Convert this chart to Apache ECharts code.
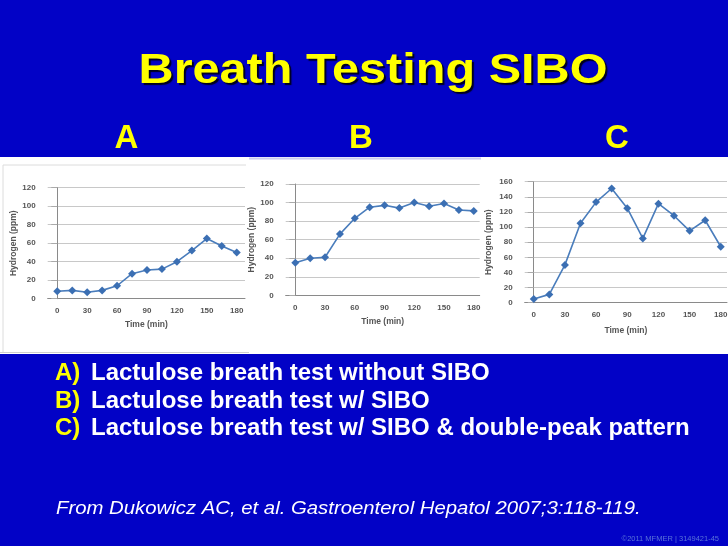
<!DOCTYPE html>
<html>
<head>
<meta charset="utf-8">
<script src="https://cdn.jsdelivr.net/npm/echarts@6/dist/echarts.min.js"></script>
<style>
html,body{margin:0;padding:0;background:#0202c6;}
#chart{width:728px;height:546px;}
</style>
</head>
<body>
<div id="chart"></div>
<script>
// ---- data ----
const times = [0, 15, 30, 45, 60, 75, 90, 105, 120, 135, 150, 165, 180];
const xTickLabels = [0, 30, 60, 90, 120, 150, 180];
const hydrogenA = [8, 9, 7, 9, 14, 27, 31, 32, 40, 52, 65, 57, 50];
const hydrogenB = [35, 40, 41, 66, 83, 95, 97, 94, 100, 96, 99, 92, 91];
const hydrogenC = [5, 11, 50, 105, 133, 151, 125, 85, 131, 115, 95, 109, 74];
const yMaxA = 120, yMaxB = 120, yMaxC = 160;
const panelLetters = ['A', 'B', 'C'];
const titleText = 'Breath Testing SIBO';
const listLetters = ['A)', 'B)', 'C)'];
const listTexts = [
  'Lactulose breath test without SIBO',
  'Lactulose breath test w/ SIBO',
  'Lactulose breath test w/ SIBO & double-peak pattern'
];
const citation = 'From Dukowicz AC, et al. Gastroenterol Hepatol 2007;3:118-119.';
const copyright = '\u00A92011 MFMER | 3149421-45';

// ---- layout ----
const FAM = 'Liberation Sans';
const grids = [
  {left: 47.7, top: 187.7, width: 197.3, height: 111, xmin: -9.6, xmax: 188.3, ymax: yMaxA, yGap: 29, xGap: 21},
  {left: 285.7, top: 184, width: 194, height: 111.3, xmin: -9.7, xmax: 186, ymax: yMaxB, yGap: 29, xGap: 22},
  {left: 524.7, top: 181.7, width: 202.3, height: 121, xmin: -8.7, xmax: 186, ymax: yMaxC, yGap: 32, xGap: 23}
];
const seriesData = [hydrogenA, hydrogenB, hydrogenC];

const axisTextColor = '#555';
const lineColor = '#4a7dbc';

function txt(x, y, text, opts) {
  return Object.assign({type: 'text', x: x, y: y, style: Object.assign({
    text: text, fontFamily: FAM, textAlign: 'left', textVerticalAlign: 'middle'
  }, opts.style)}, opts.el || {});
}

const option = {
  backgroundColor: '#0202c6',
  animation: false,
  textStyle: {fontFamily: FAM},
  grid: grids.map(g => ({left: g.left, top: g.top, width: g.width, height: g.height, containLabel: false, outerBoundsMode: 'none'})),
  xAxis: grids.map((g, i) => ({
    type: 'value', gridIndex: i, min: g.xmin, max: g.xmax,
    axisLine: {show: true, lineStyle: {color: '#8a8a8a', width: 1}},
    axisTick: {show: false},
    splitLine: {show: false},
    axisLabel: {customValues: xTickLabels, color: axisTextColor, fontSize: 8, fontWeight: 'bold', fontFamily: FAM, margin: 8},
    name: 'Time (min)', nameLocation: 'middle', nameGap: g.xGap,
    nameTextStyle: {color: axisTextColor, fontSize: 8.5, fontWeight: 'bold', fontFamily: FAM}
  })),
  yAxis: grids.map((g, i) => ({
    type: 'value', gridIndex: i, min: 0, max: g.ymax, interval: 20,
    axisLine: {show: true, lineStyle: {color: '#8a8a8a', width: 1}},
    axisTick: {show: true, length: 6, lineStyle: {color: '#aaa'}},
    splitLine: {show: true, lineStyle: {color: '#c8c8c8', width: 1}},
    axisLabel: {color: axisTextColor, fontSize: 8, fontWeight: 'bold', fontFamily: FAM, margin: 12},
    name: 'Hydrogen (ppm)', nameLocation: 'middle', nameGap: g.yGap, nameRotate: 90,
    nameTextStyle: {color: axisTextColor, fontSize: 8.5, fontWeight: 'bold', fontFamily: FAM}
  })),
  series: seriesData.map((arr, i) => ({
    type: 'line', xAxisIndex: i, yAxisIndex: i,
    data: times.map((t, k) => [t, arr[k]]),
    symbol: 'diamond', symbolSize: 8,
    lineStyle: {color: lineColor, width: 1.6},
    itemStyle: {color: '#3b6fb3'},
    z: 5
  })),
  graphic: [
    {type: 'rect', z: -10, shape: {x: 0, y: 157, width: 728, height: 197}, style: {fill: '#ffffff'}},
    {type: 'polyline', z: -9, shape: {points: [[3, 352], [3, 165], [246, 165]]}, style: {stroke: '#dcdcdc', lineWidth: 1, fill: null}},
    {type: 'line', z: -9, shape: {x1: 0, y1: 352.5, x2: 249, y2: 352.5}, style: {stroke: '#cfcfcf', lineWidth: 1}},
    {type: 'line', z: -9, shape: {x1: 249, y1: 158.5, x2: 481, y2: 158.5}, style: {stroke: '#c9cdf0', lineWidth: 2}},
    txt(373, 71, titleText, {el: {scaleX: 1.13}, style: {fill: '#ffff00', fontSize: 43, fontWeight: 'bold', textAlign: 'center',
      textShadowColor: 'rgba(0,0,0,0.85)', textShadowOffsetX: 2, textShadowOffsetY: 2, textShadowBlur: 1}}),
    ...panelLetters.map((L, i) => txt([126.5, 361, 617][i], 139, L, {style: {fill: '#ffff00', fontSize: 33, fontWeight: 'bold', textAlign: 'center',
      textShadowColor: 'rgba(0,0,0,0.6)', textShadowOffsetX: 1, textShadowOffsetY: 1}})),
    ...listLetters.map((L, i) => txt(55, [373.5, 401, 428.5][i], L, {style: {fill: '#ffff00', fontSize: 24, fontWeight: 'bold'}})),
    ...listTexts.map((T, i) => txt(91, [373.5, 401, 428.5][i], T, {style: {fill: '#ffffff', fontSize: 24, fontWeight: 'bold'}})),
    txt(56, 509, citation, {el: {scaleX: 1.07}, style: {fill: '#ffffff', fontSize: 19, fontStyle: 'italic'}}),
    txt(719, 539, copyright, {style: {fill: '#5a74d8', fontSize: 7.5, textAlign: 'right'}})
  ]
};

const chart = echarts.init(document.getElementById('chart'), null, {renderer: 'canvas'});
chart.setOption(option);
</script>
</body>
</html>
